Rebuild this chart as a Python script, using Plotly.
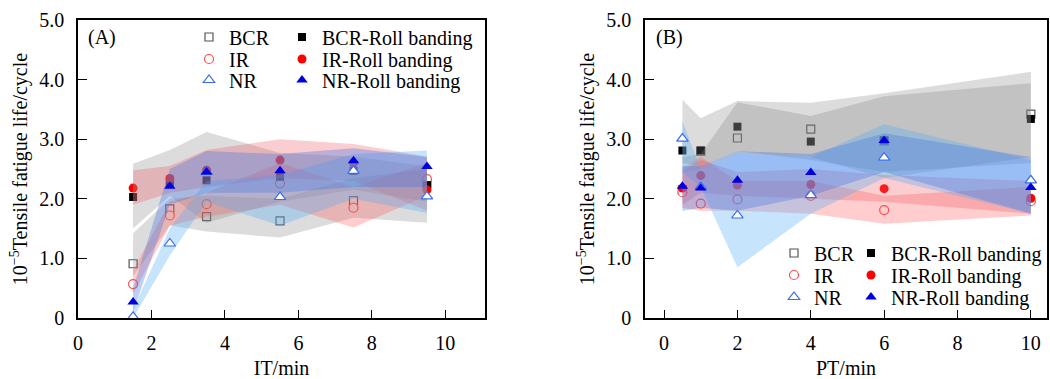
import plotly.graph_objects as go

W, H = 1050, 379
FONT = "Liberation Serif"

# ---------------- Panel A data (x: IT/min) ----------------
it_min = [1.5, 2.5, 3.5, 5.5, 7.5, 9.5]
a_bcr = [0.91, 1.83, 1.70, 1.63, 1.97, 2.25]
a_bcr_rb = [2.03, 2.27, 2.31, 2.37, 2.47, 2.23]
a_ir = [0.57, 1.72, 1.91, 2.26, 1.85, 2.33]
a_ir_rb = [2.18, 2.34, 2.48, 2.65, 2.60, 2.15]
a_nr = [0.02, 1.25, 2.45, 2.03, 2.47, 2.04]
a_nr_rb = [0.27, 2.21, 2.45, 2.47, 2.64, 2.54]

a_bcr_lo = [0.70, 1.55, 1.45, 1.35, 1.68, 1.60]
a_bcr_hi = [1.42, 2.00, 2.05, 2.00, 2.35, 2.50]
a_bcr_rb_lo = [1.50, 2.05, 1.60, 1.95, 2.15, 1.95]
a_bcr_rb_hi = [2.59, 2.82, 3.12, 2.77, 2.71, 2.54]
a_ir_lo = [0.40, 1.55, 1.70, 1.90, 1.52, 2.05]
a_ir_hi = [0.80, 1.95, 2.10, 2.60, 2.20, 2.60]
a_ir_rb_lo = [1.90, 2.10, 2.20, 2.35, 2.30, 1.80]
a_ir_rb_hi = [2.48, 2.55, 2.82, 3.00, 2.92, 2.71]
a_nr_lo = [0.00, 1.05, 1.95, 1.55, 2.00, 1.76]
a_nr_hi = [0.15, 1.50, 2.30, 2.40, 2.75, 2.81]
a_nr_rb_lo = [0.10, 1.90, 2.10, 2.10, 2.20, 2.20]
a_nr_rb_hi = [0.50, 2.50, 2.80, 2.75, 2.85, 2.70]

# ---------------- Panel B data (x: PT/min) ----------------
pt_min = [0.5, 1, 2, 4, 6, 10]
b_bcr = [2.15, 2.80, 3.02, 3.17, 2.97, 3.42]
b_bcr_rb = [2.81, 2.81, 3.21, 2.96, 2.98, 3.34]
b_ir = [2.11, 1.92, 1.99, 2.05, 1.81, 1.96]
b_ir_rb = [2.18, 2.39, 2.23, 2.24, 2.17, 2.01]
b_nr = [3.01, 2.20, 1.72, 2.06, 2.69, 2.31]
b_nr_rb = [2.21, 2.18, 2.31, 2.44, 2.98, 2.19]

b_bcr_lo = [2.45, 2.50, 2.75, 2.70, 2.35, 2.70]
b_bcr_hi = [3.66, 3.35, 3.64, 3.61, 3.77, 4.13]
b_bcr_rb_lo = [2.60, 2.55, 2.80, 2.65, 2.45, 2.60]
b_bcr_rb_hi = [2.70, 2.75, 3.62, 3.39, 3.72, 3.94]
b_ir_lo = [1.85, 1.80, 1.80, 1.75, 1.58, 1.72]
b_ir_hi = [2.50, 2.70, 2.30, 2.30, 2.05, 2.20]
b_ir_rb_lo = [1.90, 2.10, 2.05, 2.00, 1.95, 1.75]
b_ir_rb_hi = [2.45, 2.65, 2.45, 2.50, 2.40, 2.30]
b_nr_lo = [2.45, 2.20, 0.85, 1.75, 2.35, 1.75]
b_nr_hi = [3.30, 2.50, 2.75, 2.70, 3.25, 2.65]
b_nr_rb_lo = [1.80, 1.85, 1.80, 2.05, 2.45, 1.75]
b_nr_rb_hi = [2.55, 2.55, 2.80, 2.75, 3.10, 2.70]

y_ticks = [0, 1, 2, 3, 4, 5]
y_ticktext = ["0", "1.0", "2.0", "3.0", "4.0", "5.0"]
x_ticks = [0, 2, 4, 6, 8, 10]

C_GRAY = "rgba(128,128,128,0.28)"
C_GRAY2 = "rgba(128,128,128,0.28)"
C_PINK = "rgba(255,90,90,0.30)"
C_PINK2 = "rgba(240,90,100,0.30)"
C_LBLUE = "rgba(80,170,250,0.32)"
C_BLUE = "rgba(70,120,230,0.35)"

fig = go.Figure()

styles = {
    "BCR": dict(symbol="square", size=8, color="white", line=dict(color="#555555", width=1.2)),
    "IR": dict(symbol="circle", size=9, color="white", line=dict(color="#ff4a4a", width=1.2)),
    "NR": dict(symbol="triangle-up", size=10, color="white", line=dict(color="#3a6cf0", width=1.2)),
    "BCR-Roll banding": dict(symbol="square", size=8, color="black", line=dict(width=0)),
    "IR-Roll banding": dict(symbol="circle", size=9, color="#ff0000", line=dict(width=0)),
    "NR-Roll banding": dict(symbol="triangle-up", size=10, color="#0000e0", line=dict(width=0)),
}


def band(x, lo, hi, color, xa, ya):
    xs = list(x) + list(x)[::-1]
    ys = list(hi) + list(lo)[::-1]
    fig.add_trace(go.Scatter(x=xs, y=ys, fill="toself", fillcolor=color,
                             line=dict(width=0), mode="lines", hoverinfo="skip",
                             showlegend=False, xaxis=xa, yaxis=ya))


def pts(x, y, name, xa, ya, leg):
    fig.add_trace(go.Scatter(x=x, y=y, mode="markers", name=name, marker=styles[name],
                             xaxis=xa, yaxis=ya, legend=leg))


# one legend per entry so the 3x2 grid can be laid out tightly
A_LEG = {"BCR": "legend", "IR": "legend2", "NR": "legend3",
         "BCR-Roll banding": "legend4", "IR-Roll banding": "legend5", "NR-Roll banding": "legend6"}
B_LEG = {"BCR": "legend7", "IR": "legend8", "NR": "legend9",
         "BCR-Roll banding": "legend10", "IR-Roll banding": "legend11", "NR-Roll banding": "legend12"}

# markers lying under the shaded bands
pts(it_min, a_bcr, "BCR", "x", "y", A_LEG["BCR"])
pts(it_min, a_ir, "IR", "x", "y", A_LEG["IR"])
pts(it_min, a_bcr_rb, "BCR-Roll banding", "x", "y", A_LEG["BCR-Roll banding"])
pts(it_min, a_ir_rb, "IR-Roll banding", "x", "y", A_LEG["IR-Roll banding"])
pts(pt_min, b_bcr, "BCR", "x2", "y2", B_LEG["BCR"])
pts(pt_min, b_ir, "IR", "x2", "y2", B_LEG["IR"])
pts(pt_min, b_bcr_rb, "BCR-Roll banding", "x2", "y2", B_LEG["BCR-Roll banding"])
pts(pt_min, b_ir_rb, "IR-Roll banding", "x2", "y2", B_LEG["IR-Roll banding"])

for (x, lo, hi, c) in [
    (it_min, a_bcr_lo, a_bcr_hi, C_GRAY),
    (it_min, a_bcr_rb_lo, a_bcr_rb_hi, C_GRAY2),
    (it_min, a_ir_lo, a_ir_hi, C_PINK),
    (it_min, a_ir_rb_lo, a_ir_rb_hi, C_PINK2),
    (it_min, a_nr_lo, a_nr_hi, C_LBLUE),
    (it_min, a_nr_rb_lo, a_nr_rb_hi, C_BLUE),
]:
    band(x, lo, hi, c, "x", "y")

for (x, lo, hi, c) in [
    (pt_min, b_bcr_lo, b_bcr_hi, C_GRAY),
    (pt_min, b_bcr_rb_lo, b_bcr_rb_hi, C_GRAY2),
    (pt_min, b_ir_lo, b_ir_hi, C_PINK),
    (pt_min, b_ir_rb_lo, b_ir_rb_hi, C_PINK2),
    (pt_min, b_nr_lo, b_nr_hi, C_LBLUE),
    (pt_min, b_nr_rb_lo, b_nr_rb_hi, C_BLUE),
]:
    band(x, lo, hi, c, "x2", "y2")

# markers drawn above the bands
pts(it_min, a_nr, "NR", "x", "y", A_LEG["NR"])
pts(it_min, a_nr_rb, "NR-Roll banding", "x", "y", A_LEG["NR-Roll banding"])
pts(pt_min, b_nr, "NR", "x2", "y2", B_LEG["NR"])
pts(pt_min, b_nr_rb, "NR-Roll banding", "x2", "y2", B_LEG["NR-Roll banding"])

axfont = dict(family=FONT, size=20, color="black")
common_x = dict(showline=True, linecolor="black", linewidth=1.5, mirror=True,
                ticks="inside", ticklen=8, tickwidth=1.3, tickcolor="black",
                tickvals=x_ticks, showgrid=False, zeroline=False,
                tickfont=axfont, ticklabelstandoff=6)
common_y = dict(showline=True, linecolor="black", linewidth=1.5, mirror=True,
                ticks="inside", ticklen=9, tickwidth=1.3, tickcolor="black",
                tickvals=y_ticks, ticktext=y_ticktext, range=[0, 5],
                showgrid=False, zeroline=False, tickfont=axfont, ticklabelstandoff=8)

ydom = [1 - 318 / H, 1 - 20 / H]
ytitle = dict(text="10<sup>−5</sup>Tensile fatigue life/cycle", font=axfont, standoff=6)

fig.update_layout(
    width=W, height=H, margin=dict(l=0, r=0, t=0, b=0, autoexpand=False),
    paper_bgcolor="white", plot_bgcolor="rgba(0,0,0,0)",
    font=dict(family=FONT, size=20, color="black"),
    xaxis=dict(domain=[78 / W, 485 / W], range=[0, 11.08], anchor="y",
               title=dict(text="IT/min", font=axfont, standoff=10), **common_x),
    yaxis=dict(domain=ydom, anchor="x", title=ytitle, **common_y),
    xaxis2=dict(domain=[645 / W, 1047 / W], range=[-0.52, 10.44], anchor="y2",
                title=dict(text="PT/min", font=axfont, standoff=10), **common_x),
    yaxis2=dict(domain=ydom, anchor="x2", title=ytitle, **common_y),
)

legfont = dict(family=FONT, size=20, color="black")
legcommon = dict(bgcolor="rgba(0,0,0,0)", borderwidth=0, font=legfont,
                 itemwidth=30, tracegroupgap=0, xanchor="left", yanchor="middle",
                 xref="paper", yref="paper", itemclick=False, itemdoubleclick=False)

names = ["BCR", "IR", "NR", "BCR-Roll banding", "IR-Roll banding", "NR-Roll banding"]
a_rows = [37, 59, 80]
b_rows = [253, 275, 297]
a_cols = [189, 282]
b_cols = [774, 851]
layout_legs = {}
for i, nm in enumerate(names):
    col, row = divmod(i, 3)
    layout_legs[A_LEG[nm]] = dict(x=a_cols[col] / W, y=1 - a_rows[row] / H, **legcommon)
    layout_legs[B_LEG[nm]] = dict(x=b_cols[col] / W, y=1 - b_rows[row] / H, **legcommon)
fig.update_layout(**layout_legs)

fig.add_annotation(text="(A)", x=86 / W, y=1 - 38 / H, xref="paper", yref="paper",
                   xanchor="left", yanchor="middle", showarrow=False,
                   font=dict(family=FONT, size=20, color="black"))
fig.add_annotation(text="(B)", x=654 / W, y=1 - 38 / H, xref="paper", yref="paper",
                   xanchor="left", yanchor="middle", showarrow=False,
                   font=dict(family=FONT, size=20, color="black"))

fig.write_html("out.html")
